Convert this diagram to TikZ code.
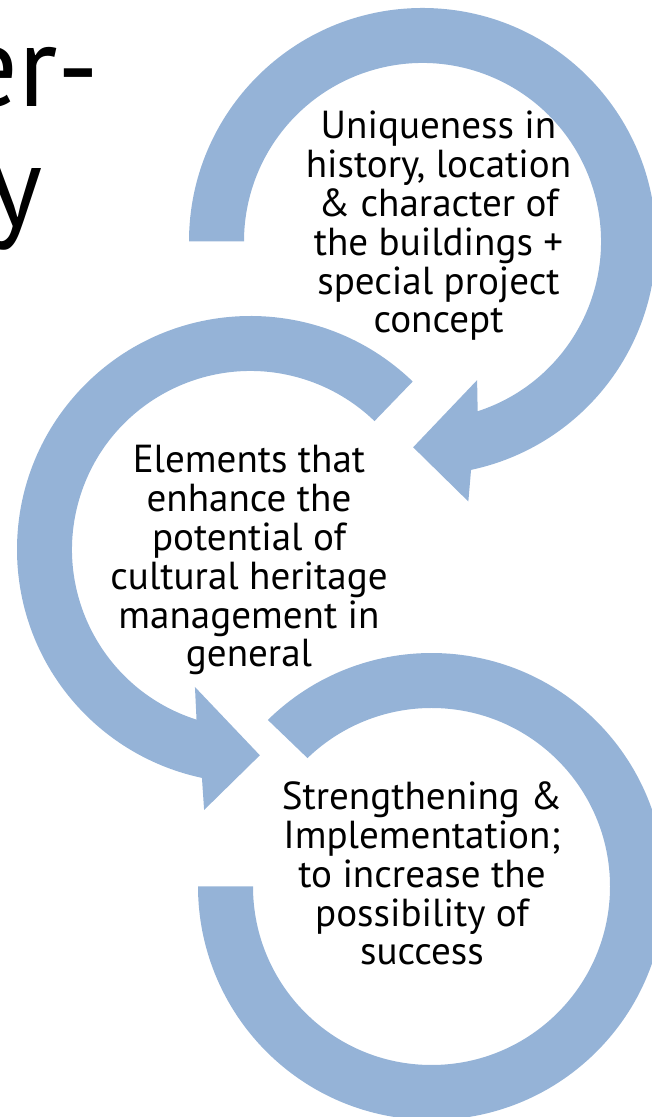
\documentclass[tikz,border=0pt]{standalone}
\usepackage{fontspec}
\setmainfont{PT Sans}
\usepackage{tikz}

\definecolor{flecha}{RGB}{149,179,215}
\tikzset{
  anillo/.style={fill=flecha, draw=none},
  texto/.style={align=center, inner sep=0pt, anchor=base, font=\fontsize{29.3}{29.1}\selectfont},
  titulo/.style={inner sep=0pt, anchor=base east, font=\fontsize{87}{90}\selectfont}
}

\begin{document}
\begin{tikzpicture}[x=0.75pt,y=0.75pt]
  \useasboundingbox (0,0) rectangle (652,1117);
  \clip (0,0) rectangle (652,1117);
  % Centros de los anillos
  \coordinate (C1) at (422.5,875.5);
  \coordinate (C2) at (250.5,567.5);
  \coordinate (C3) at (431.5,230.5);
  % Anillo superior
  \fill[anillo, shift={(C1)}] (180:233.5) arc[start angle=180, end angle=-78, radius=233.5]
    -- (-80:264) -- (-92.6:206) -- (-68.5:149) -- (-72:178.5)
    arc[start angle=-72, end angle=180, radius=178.5] -- cycle;
  % Anillo central
  \fill[anillo, shift={(C2)}] (46:233.5) arc[start angle=46, end angle=258, radius=233.5]
    -- (259.9:264.6) -- (272.6:206) -- (248:148.3) -- (252.4:178.5)
    arc[start angle=252.4, end angle=46, radius=178.5] -- cycle;
  % Anillo inferior
  \fill[anillo, shift={(C3)}] (134.5:233.5) arc[start angle=134.5, end angle=-180, radius=233.5]
    -- (-180:178.5) arc[start angle=-180, end angle=134, radius=178.5] -- cycle;
  % Textos
  \node(tit1)[titulo] at (100,1010) {er-};
  \node(tit2)[titulo] at (43,890) {y};
  \node(uniq)[texto] at (438.5,784) {Uniqueness in\\history, location\\\& character of\\the buildings +\\special project\\concept};
  \node(elem)[texto] at (249,450) {Elements that\\enhance the\\potential of\\cultural heritage\\management in\\general};
  \node(streng)[texto] at (422,152) {Strengthening \&\\Implementation;\\to increase the\\possibility of\\success};
\end{tikzpicture}
\end{document}
